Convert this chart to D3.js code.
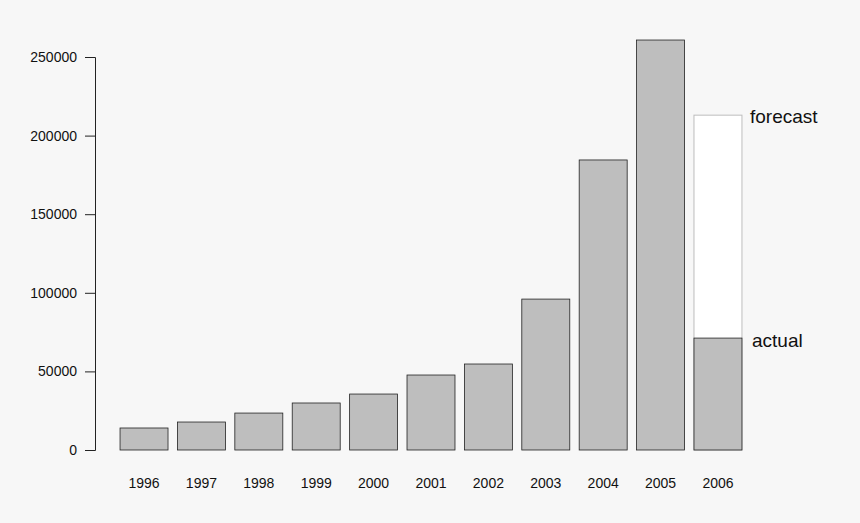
<!DOCTYPE html>
<html><head><meta charset="utf-8">
<script src="https://cdn.jsdelivr.net/npm/d3@7"></script>
<style>body{margin:0;background:#f7f7f7;}text{font-family:"Liberation Sans",Arial,sans-serif;}</style>
</head><body><svg id="c"></svg>
<script>
const years = ["1996","1997","1998","1999","2000","2001","2002","2003","2004","2005","2006"];
const actual = [14000,17800,23500,29900,35600,47700,54700,96000,184500,260800,71200];
const forecastYear = "2006";
const forecastValue = 213000;
const yTicks = [0,50000,100000,150000,200000,250000];

const width = 860, height = 523;
const svg = d3.select("#c").attr("width", width).attr("height", height);
svg.append("rect").attr("width", width).attr("height", height).attr("fill", "#f7f7f7");

const x = d3.scaleBand().domain(years).range([114.3, 747.7]).paddingInner(0.164).paddingOuter(0.1);
const y = d3.scaleLinear().domain([0, 250000]).range([450, 57]);

// forecast outline
svg.append("rect")
  .attr("x", x(forecastYear)).attr("width", x.bandwidth())
  .attr("y", y(forecastValue)).attr("height", y(0) - y(forecastValue))
  .attr("fill", "#fff").attr("stroke", "#bdbdbd");

svg.selectAll("rect.bar").data(years).join("rect").attr("class", "bar")
  .attr("x", d => x(d)).attr("width", x.bandwidth())
  .attr("y", (d, i) => y(actual[i])).attr("height", (d, i) => y(0) - y(actual[i]))
  .attr("fill", "#bebebe").attr("stroke", "#222").attr("stroke-width", 0.8);

const yAxis = svg.append("g").attr("transform", "translate(95,0)")
  .call(d3.axisLeft(y).tickValues(yTicks).tickSize(10).tickPadding(8).tickFormat(d3.format("d")));
yAxis.select(".domain").attr("stroke", "#222");
yAxis.selectAll("text").attr("font-size", 14).attr("fill", "#111");
yAxis.selectAll("line").attr("stroke", "#222");

svg.selectAll("text.xl").data(years).join("text").attr("class", "xl")
  .attr("x", d => x(d) + x.bandwidth() / 2).attr("y", 488)
  .attr("text-anchor", "middle").attr("font-size", 14).attr("fill", "#111").text(d => d);

svg.append("text").attr("x", 750).attr("y", 123).attr("font-size", 19).attr("fill", "#111").text("forecast");
svg.append("text").attr("x", 752).attr("y", 347).attr("font-size", 19).attr("fill", "#111").text("actual");
</script></body></html>
